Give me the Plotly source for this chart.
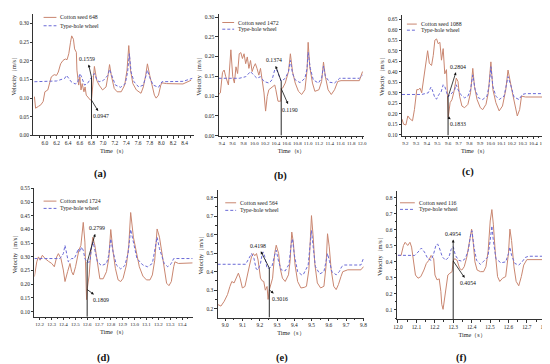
import plotly.graph_objects as go

W, H = 550, 364
FONT = "Liberation Serif"
SEED_COLOR = "#c98670"
WHEEL_COLOR = "#6a6ad6"

# ---------------- (a) ----------------
a_seed_t = [5.82,5.84,5.89,5.93,5.97,6.00,6.05,6.08,6.11,6.16,6.20,6.23,6.27,6.31,6.35,6.38,6.41,6.44,6.46,6.49,6.51,6.54,6.55,6.58,6.60,6.62,6.64,6.67,6.69,6.71,6.73,6.76,6.78,6.80,6.85,6.89,6.93,6.99,7.05,7.08,7.11,7.14,7.19,7.24,7.31,7.37,7.41,7.44,7.47,7.51,7.57,7.65,7.69,7.73,7.76,7.80,7.84,7.88,7.91,7.95,7.99,8.01,8.09,8.20,8.37,8.51]
a_seed_v = [0.104,0.073,0.078,0.082,0.091,0.117,0.122,0.139,0.157,0.163,0.161,0.170,0.192,0.201,0.205,0.203,0.219,0.250,0.267,0.258,0.232,0.223,0.175,0.135,0.157,0.122,0.139,0.117,0.130,0.108,0.104,0.100,0.095,0.0947,0.185,0.148,0.135,0.122,0.130,0.157,0.190,0.161,0.126,0.117,0.117,0.135,0.175,0.241,0.175,0.139,0.122,0.113,0.130,0.161,0.192,0.161,0.130,0.108,0.100,0.108,0.135,0.141,0.139,0.138,0.138,0.148]
a_wheel_t = [5.82,6.00,6.20,6.34,6.37,6.41,6.45,6.52,6.56,6.60,6.63,6.68,6.73,6.80,6.85,6.89,6.93,7.00,7.08,7.11,7.16,7.21,7.30,7.38,7.42,7.45,7.48,7.53,7.61,7.69,7.73,7.76,7.80,7.86,7.95,8.01,8.37,8.53]
a_wheel_v = [0.144,0.145,0.146,0.153,0.161,0.153,0.144,0.138,0.141,0.166,0.157,0.135,0.139,0.1559,0.166,0.150,0.144,0.147,0.161,0.177,0.157,0.135,0.129,0.139,0.170,0.219,0.170,0.144,0.130,0.135,0.157,0.175,0.155,0.135,0.129,0.144,0.145,0.153]
a_mark_t = 6.80
a_mark_values = [0.1559, 0.0947]
a_label_pos = [(6.73, 0.205), (6.97, 0.051)]

# ---------------- (b) ----------------
b_seed_t = [9.34,9.37,9.41,9.44,9.47,9.52,9.565,9.60,9.63,9.66,9.69,9.72,9.75,9.78,9.81,9.84,9.87,9.90,9.93,9.96,9.99,10.02,10.05,10.085,10.115,10.145,10.18,10.21,10.24,10.27,10.33,10.38,10.40,10.44,10.49,10.50,10.525,10.575,10.635,10.67,10.71,10.76,10.82,10.88,10.94,10.98,11.00,11.03,11.08,11.125,11.20,11.25,11.285,11.32,11.37,11.43,11.49,11.55,11.61,11.80,11.95,12.01]
b_seed_v = [0.104,0.108,0.160,0.166,0.149,0.128,0.217,0.149,0.133,0.174,0.157,0.207,0.210,0.195,0.207,0.182,0.199,0.170,0.190,0.162,0.174,0.182,0.170,0.153,0.170,0.141,0.108,0.062,0.099,0.116,0.124,0.128,0.116,0.087,0.087,0.119,0.120,0.133,0.162,0.207,0.162,0.133,0.112,0.104,0.116,0.166,0.236,0.174,0.133,0.112,0.116,0.137,0.186,0.149,0.116,0.104,0.116,0.137,0.139,0.139,0.139,0.162]
b_wheel_t = [9.34,9.72,9.84,9.93,9.99,10.05,10.115,10.18,10.27,10.33,10.38,10.42,10.465,10.50,10.575,10.635,10.67,10.71,10.76,10.85,10.94,10.98,11.00,11.04,11.095,11.19,11.25,11.285,11.32,11.40,11.49,11.585,11.95,12.01]
b_wheel_v = [0.145,0.145,0.149,0.162,0.153,0.145,0.149,0.137,0.133,0.141,0.167,0.166,0.149,0.1374,0.145,0.162,0.190,0.157,0.141,0.134,0.145,0.170,0.211,0.170,0.141,0.133,0.145,0.176,0.150,0.135,0.133,0.145,0.145,0.153]
b_mark_t = 10.50
b_mark_values = [0.1374, 0.1190]
b_label_pos = [(10.36, 0.19), (10.67, 0.066)]

# ---------------- (c) ----------------
c_seed_t = [9.167,9.182,9.204,9.222,9.244,9.266,9.284,9.306,9.321,9.337,9.352,9.374,9.389,9.408,9.424,9.445,9.461,9.476,9.492,9.507,9.523,9.538,9.554,9.569,9.585,9.598,9.602,9.619,9.637,9.656,9.677,9.693,9.708,9.73,9.755,9.786,9.811,9.832,9.848,9.872,9.903,9.925,9.956,9.978,10.002,10.021,10.049,10.08,10.111,10.142,10.163,10.204,10.228,10.25,10.272,10.29,10.328,10.482,10.513,10.529]
c_seed_v = [0.175,0.151,0.147,0.19,0.175,0.167,0.22,0.315,0.315,0.322,0.30,0.377,0.416,0.50,0.44,0.43,0.478,0.55,0.556,0.533,0.54,0.455,0.51,0.39,0.41,0.2804,0.1833,0.253,0.268,0.307,0.37,0.354,0.284,0.237,0.229,0.245,0.30,0.416,0.33,0.268,0.229,0.22,0.245,0.30,0.447,0.315,0.253,0.214,0.237,0.315,0.408,0.30,0.237,0.19,0.22,0.284,0.28,0.28,0.29,0.32]
c_wheel_t = [9.167,9.352,9.414,9.439,9.451,9.476,9.492,9.513,9.532,9.554,9.569,9.585,9.60,9.625,9.646,9.662,9.677,9.693,9.718,9.755,9.786,9.811,9.832,9.854,9.885,9.925,9.965,9.987,10.002,10.021,10.049,10.08,10.126,10.151,10.163,10.188,10.219,10.266,10.297,10.328,10.482,10.513]
c_wheel_v = [0.292,0.292,0.30,0.327,0.315,0.276,0.27,0.292,0.30,0.338,0.33,0.30,0.2804,0.292,0.307,0.315,0.338,0.315,0.292,0.276,0.284,0.315,0.385,0.315,0.276,0.268,0.284,0.338,0.424,0.33,0.284,0.268,0.284,0.338,0.377,0.338,0.28,0.268,0.292,0.296,0.296,0.315]
c_mark_t = 9.60
c_mark_values = [0.2804, 0.1833]
c_label_pos = [(9.69, 0.424), (9.69, 0.15)]

# ---------------- (d) ----------------
d_seed_t = [12.155,12.175,12.189,12.203,12.222,12.245,12.273,12.301,12.323,12.343,12.357,12.379,12.399,12.413,12.435,12.455,12.469,12.483,12.502,12.519,12.53,12.547,12.567,12.581,12.589,12.595,12.60,12.617,12.631,12.648,12.665,12.687,12.707,12.735,12.763,12.782,12.799,12.819,12.838,12.861,12.883,12.903,12.931,12.951,12.967,12.99,13.02,13.04,13.07,13.10,13.13,13.15,13.17,13.18,13.19,13.21,13.23,13.25,13.27,13.29,13.31,13.33,13.34,13.37,13.47,13.49]
d_seed_v = [0.228,0.282,0.30,0.288,0.306,0.294,0.284,0.276,0.264,0.30,0.312,0.294,0.252,0.21,0.246,0.276,0.246,0.234,0.264,0.306,0.324,0.342,0.426,0.354,0.198,0.144,0.1809,0.234,0.318,0.372,0.342,0.27,0.22,0.22,0.246,0.294,0.40,0.318,0.258,0.216,0.21,0.222,0.27,0.342,0.462,0.372,0.312,0.264,0.23,0.216,0.216,0.234,0.288,0.36,0.402,0.372,0.312,0.252,0.204,0.195,0.21,0.264,0.282,0.276,0.276,0.278]
d_wheel_t = [12.155,12.329,12.371,12.399,12.413,12.427,12.441,12.469,12.491,12.511,12.525,12.539,12.553,12.567,12.581,12.60,12.623,12.637,12.651,12.665,12.687,12.721,12.763,12.782,12.799,12.819,12.847,12.883,12.917,12.945,12.967,12.99,13.02,13.07,13.11,13.15,13.17,13.19,13.21,13.25,13.28,13.31,13.33,13.49]
d_wheel_v = [0.294,0.294,0.294,0.312,0.342,0.312,0.282,0.294,0.294,0.312,0.33,0.318,0.336,0.324,0.294,0.2799,0.282,0.336,0.354,0.324,0.282,0.268,0.276,0.306,0.366,0.318,0.27,0.256,0.268,0.312,0.40,0.354,0.294,0.27,0.264,0.276,0.324,0.372,0.33,0.276,0.264,0.276,0.294,0.294]
d_mark_t = 12.60
d_mark_values = [0.2799, 0.1809]
d_label_pos = [(12.68, 0.404), (12.715, 0.144)]

# ---------------- (e) ----------------
e_seed_t = [8.956,8.975,8.994,9.013,9.027,9.038,9.051,9.065,9.076,9.086,9.099,9.114,9.128,9.141,9.152,9.162,9.171,9.181,9.19,9.204,9.213,9.223,9.232,9.242,9.248,9.255,9.274,9.286,9.295,9.309,9.318,9.331,9.347,9.366,9.375,9.385,9.394,9.404,9.419,9.438,9.457,9.47,9.484,9.493,9.499,9.509,9.518,9.533,9.552,9.571,9.583,9.592,9.602,9.613,9.628,9.642,9.655,9.67,9.68,9.709,9.785,9.80]
e_seed_v = [0.223,0.214,0.24,0.276,0.32,0.347,0.339,0.374,0.392,0.365,0.312,0.32,0.392,0.436,0.48,0.498,0.486,0.498,0.463,0.365,0.351,0.347,0.30,0.32,0.25,0.3016,0.365,0.498,0.543,0.498,0.418,0.365,0.347,0.383,0.454,0.614,0.56,0.436,0.347,0.312,0.315,0.321,0.41,0.587,0.703,0.587,0.445,0.339,0.312,0.321,0.427,0.605,0.534,0.41,0.321,0.303,0.33,0.374,0.40,0.41,0.41,0.427]
e_wheel_t = [8.956,9.118,9.137,9.152,9.166,9.179,9.19,9.204,9.213,9.219,9.229,9.242,9.255,9.27,9.286,9.295,9.309,9.324,9.347,9.369,9.381,9.389,9.40,9.419,9.442,9.451,9.48,9.49,9.499,9.509,9.522,9.547,9.571,9.585,9.592,9.604,9.617,9.642,9.66,9.674,9.69,9.785,9.80]
e_wheel_v = [0.44,0.44,0.472,0.498,0.472,0.415,0.41,0.445,0.49,0.507,0.48,0.418,0.4198,0.427,0.49,0.516,0.454,0.41,0.404,0.44,0.543,0.578,0.49,0.40,0.383,0.383,0.436,0.534,0.623,0.534,0.427,0.388,0.40,0.463,0.498,0.454,0.40,0.383,0.40,0.427,0.436,0.436,0.472]
e_mark_t = 9.255
e_mark_values = [0.4198, 0.3016]
e_label_pos = [(9.19, 0.539), (9.318, 0.255)]

# ---------------- (f) ----------------
f_seed_t = [12.0,12.017,12.03,12.039,12.053,12.065,12.074,12.083,12.095,12.109,12.124,12.141,12.154,12.168,12.18,12.194,12.201,12.212,12.224,12.233,12.238,12.245,12.254,12.263,12.271,12.282,12.294,12.30,12.308,12.321,12.335,12.347,12.36,12.374,12.388,12.40,12.409,12.418,12.43,12.448,12.465,12.478,12.49,12.501,12.51,12.518,12.529,12.541,12.553,12.568,12.585,12.60,12.608,12.617,12.63,12.642,12.656,12.67,12.683,12.70,12.81]
f_seed_v = [0.44,0.44,0.502,0.522,0.502,0.522,0.492,0.42,0.318,0.298,0.308,0.349,0.39,0.41,0.44,0.42,0.318,0.288,0.294,0.216,0.135,0.104,0.176,0.278,0.318,0.329,0.339,0.4054,0.42,0.41,0.359,0.349,0.37,0.43,0.522,0.604,0.52,0.40,0.349,0.339,0.339,0.37,0.47,0.655,0.726,0.635,0.451,0.308,0.278,0.298,0.308,0.451,0.604,0.533,0.369,0.278,0.251,0.308,0.38,0.414,0.414]
f_wheel_t = [12.0,12.091,12.109,12.127,12.144,12.162,12.18,12.194,12.206,12.215,12.224,12.241,12.259,12.277,12.289,12.30,12.312,12.33,12.347,12.365,12.382,12.395,12.402,12.413,12.427,12.448,12.462,12.488,12.501,12.51,12.518,12.532,12.559,12.585,12.60,12.608,12.617,12.635,12.656,12.674,12.691,12.709,12.81]
f_wheel_v = [0.441,0.44,0.461,0.486,0.461,0.42,0.41,0.451,0.502,0.512,0.49,0.431,0.41,0.431,0.478,0.4954,0.44,0.41,0.404,0.42,0.471,0.573,0.594,0.49,0.41,0.384,0.40,0.43,0.533,0.624,0.533,0.42,0.394,0.40,0.451,0.492,0.441,0.39,0.38,0.40,0.427,0.435,0.435]
f_mark_t = 12.30
f_mark_values = [0.4954, 0.4054]
f_label_pos = [(12.30, 0.573), (12.382, 0.267)]

seed_names = ["Cotton seed 648", "Cotton seed 1472", "Cotton seed 1088",
              "Cotton seed 1724", "Cotton seed 564", "Cotton seed 116"]
wheel_name = "Type-hole wheel"
panel_letters = ["(a)", "(b)", "(c)", "(d)", "(e)", "(f)"]
x_title = "Time（s）"
y_title = "Velocity（m/s）"

panels = [
    dict(seed=(a_seed_t, a_seed_v), wheel=(a_wheel_t, a_wheel_v), mark=a_mark_t, vals=a_mark_values, lab=a_label_pos,
         xr=[5.803, 8.554], yr=[0.0, 0.325], xt0=6.0, dx=0.2, yt0=0.0, dy=0.05, fy=".2f", xfs=5.4,
         box=(21.7, 3.3, 184, 126.5), leg=(32, 45, 6.5, 15), letter=(90, 166)),
    dict(seed=(b_seed_t, b_seed_v), wheel=(b_wheel_t, b_wheel_v), mark=b_mark_t, vals=b_mark_values, lab=b_label_pos,
         xr=[9.338, 12.04], yr=[0.0, 0.307], xt0=9.4, dx=0.2, yt0=0.0, dy=0.05, fy=".2f", xfs=5.0,
         box=(209.3, 3.3, 356.7, 126.7), leg=(213, 225, 11.7, 18.5), letter=(272, 168)),
    dict(seed=(c_seed_t, c_seed_v), wheel=(c_wheel_t, c_wheel_v), mark=c_mark_t, vals=c_mark_values, lab=c_label_pos,
         xr=[9.167, 10.53], yr=[0.097, 0.67], xt0=9.2, dx=0.1, yt0=0.10, dy=0.05, fy=".2f", xfs=5.0,
         box=(395, 4, 542, 126.6), leg=(400, 410, 13.3, 19.5), letter=(462, 164)),
    dict(seed=(d_seed_t, d_seed_v), wheel=(d_wheel_t, d_wheel_v), mark=d_mark_t, vals=d_mark_values, lab=d_label_pos,
         xr=[12.155, 13.49], yr=[0.081, 0.55], xt0=12.2, dx=0.1, yt0=0.10, dy=0.05, fy=".2f", xfs=5.0,
         box=(22.7, 180.4, 183, 311), leg=(32, 45, 193.3, 200.7), letter=(93, 353)),
    dict(seed=(e_seed_t, e_seed_v), wheel=(e_wheel_t, e_wheel_v), mark=e_mark_t, vals=e_mark_values, lab=e_label_pos,
         xr=[8.956, 9.804], yr=[0.152, 0.843], xt0=9.0, dx=0.1, yt0=0.2, dy=0.1, fy=".1f", xfs=5.4,
         box=(208.3, 181.7, 356.7, 311.7), leg=(216, 227, 195, 202.7), letter=(273, 353)),
    dict(seed=(f_seed_t, f_seed_v), wheel=(f_wheel_t, f_wheel_v), mark=f_mark_t, vals=f_mark_values, lab=f_label_pos,
         xr=[11.995, 12.81], yr=[0.043, 0.84], xt0=12.0, dx=0.1, yt0=0.1, dy=0.1, fy=".1f", xfs=5.4,
         box=(390, 183.3, 542, 313.3), leg=(393, 408, 195, 201.7), letter=(455, 353)),
]

fig = go.Figure()
annotations = []
shapes = []
layout = {}

axis_common = dict(showline=True, linecolor="#333333", linewidth=0.8, ticks="outside",
                   ticklen=2.5, tickwidth=0.7, tickcolor="#333333", showgrid=False, zeroline=False,
                   tickangle=0,
                   minor=dict(ticks="outside", ticklen=1.5, tickwidth=0.6, tickcolor="#333333", nticks=2))

for i, p in enumerate(panels, start=1):
    sfx = "" if i == 1 else str(i)
    xa, ya = "x" + sfx, "y" + sfx
    x0, y0, x1, y1 = p["box"]
    fig.add_trace(go.Scatter(x=p["seed"][0], y=p["seed"][1], xaxis=xa, yaxis=ya, mode="lines",
                             line=dict(color=SEED_COLOR, width=1), showlegend=False, hoverinfo="skip"))
    fig.add_trace(go.Scatter(x=p["wheel"][0], y=p["wheel"][1], xaxis=xa, yaxis=ya, mode="lines",
                             line=dict(color=WHEEL_COLOR, width=1, dash="3px,2px"), showlegend=False, hoverinfo="skip"))
    fig.add_trace(go.Scatter(x=[p["mark"], p["mark"]], y=[p["yr"][0], max(p["vals"])], xaxis=xa, yaxis=ya,
                             mode="lines", line=dict(color="#2a2a2a", width=1), showlegend=False, hoverinfo="skip"))
    layout["xaxis" + sfx] = dict(axis_common, domain=[x0 / W, x1 / W], anchor=ya, range=p["xr"],
                                 tick0=p["xt0"], dtick=p["dx"], tickformat=".1f",
                                 tickfont=dict(family=FONT, size=p["xfs"], color="#222"),
                                 title=dict(text=x_title, font=dict(family=FONT, size=6.2, color="#222"), standoff=3))
    layout["yaxis" + sfx] = dict(axis_common, domain=[1 - y1 / H, 1 - y0 / H], anchor=xa, range=p["yr"],
                                 tick0=p["yt0"], dtick=p["dy"], tickformat=p["fy"],
                                 tickfont=dict(family=FONT, size=5.4, color="#222"),
                                 title=dict(text=y_title, font=dict(family=FONT, size=6.2, color="#222"), standoff=2))
    for v, (tx, ty) in zip(p["vals"], p["lab"]):
        annotations.append(dict(x=p["mark"], y=v, xref=xa, yref=ya, ax=tx, ay=ty, axref=xa, ayref=ya,
                                text=f"{v:.4f}", showarrow=True, arrowside="start", startarrowhead=2,
                                startarrowsize=0.7, arrowwidth=0.8, arrowcolor="#111",
                                standoff=0, startstandoff=1,
                                font=dict(family=FONT, size=5.8, color="#111")))
    lx0, lx1, ly1, ly2 = p["leg"]
    shapes.append(dict(type="line", xref="paper", yref="paper", x0=lx0 / W, x1=lx1 / W,
                       y0=1 - ly1 / H, y1=1 - ly1 / H, line=dict(color=SEED_COLOR, width=1)))
    shapes.append(dict(type="line", xref="paper", yref="paper", x0=lx0 / W, x1=lx1 / W,
                       y0=1 - ly2 / H, y1=1 - ly2 / H, line=dict(color=WHEEL_COLOR, width=1, dash="3px,2px")))
    for txt, ly in ((seed_names[i - 1], ly1), (wheel_name, ly2)):
        annotations.append(dict(x=(lx1 + 2) / W, y=1 - ly / H, xref="paper", yref="paper", text=txt,
                                showarrow=False, xanchor="left", yanchor="middle",
                                font=dict(family=FONT, size=5.8, color="#222")))
    lxp, lyp = p["letter"]
    annotations.append(dict(x=lxp / W, y=1 - lyp / H, xref="paper", yref="paper", text=f"<b>{panel_letters[i-1]}</b>",
                            showarrow=False, xanchor="center", yanchor="middle",
                            font=dict(family=FONT, size=10.5, color="#111")))

fig.update_layout(width=W, height=H, margin=dict(l=0, r=0, t=0, b=0),
                  paper_bgcolor="white", plot_bgcolor="white",
                  annotations=annotations, shapes=shapes, showlegend=False, **layout)

fig.write_html("out.html")
